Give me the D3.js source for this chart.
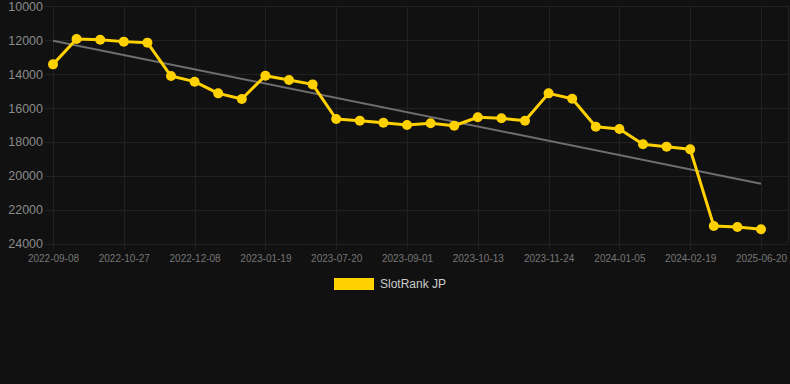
<!DOCTYPE html>
<html>
<head>
<meta charset="utf-8">
<script src="https://cdn.jsdelivr.net/npm/d3@7"></script>
<style>
  html, body { margin: 0; padding: 0; background: #111111; }
  svg { display: block; }
</style>
</head>
<body>
<svg id="chart" width="790" height="384"></svg>
<script>
// ---- data ----
const seriesName = "SlotRank JP";
const rankValues = [
  13440, 11950, 11990, 12100, 12160, 14130, 14460, 15150, 15480, 14110,
  14360, 14620, 16660, 16760, 16880, 17015, 16915, 17060, 16560, 16620,
  16760, 15150, 15465, 17115, 17250, 18150, 18290, 18450, 22970, 23030,
  23160
];
const tickLabels = [
  "2022-09-08", "2022-10-27", "2022-12-08", "2023-01-19", "2023-07-20",
  "2023-09-01", "2023-10-13", "2023-11-24", "2024-01-05", "2024-02-19",
  "2025-06-20"
];
const tickIndices = [0, 3, 6, 9, 12, 15, 18, 21, 24, 27, 30];
const trendValues = [12045, 20475];
const yTicks = [10000, 12000, 14000, 16000, 18000, 20000, 22000, 24000];

// ---- layout ----
const svg = d3.select("#chart");
const plot = { left: 45, right: 788, top: 6, bottom: 243.5 };

const x = d3.scalePoint()
  .domain(d3.range(rankValues.length))
  .range([53, 761]);
const y = d3.scaleLinear()
  .domain([10000, 24000])
  .range([plot.top, plot.bottom]);

const gridColor = "#212121";

// horizontal grid + y labels
const yAxis = d3.axisLeft(y).tickValues(yTicks).tickSize(0).tickPadding(0)
  .tickFormat(d3.format("d"));
const gy = svg.append("g").attr("transform", `translate(${plot.left - 2},0)`).call(yAxis);
gy.select(".domain").remove();
gy.selectAll("text")
  .attr("fill", "#8a8a8a")
  .attr("font-family", "Liberation Sans, Arial, sans-serif")
  .attr("font-size", 12.5)
  .attr("dy", "0.34em");

svg.append("g").selectAll("line").data(yTicks).join("line")
  .attr("x1", plot.left).attr("x2", plot.right)
  .attr("y1", d => Math.round(y(d)) + 0.5).attr("y2", d => Math.round(y(d)) + 0.5)
  .attr("stroke", gridColor).attr("stroke-width", 1);

// vertical grid
svg.append("g").selectAll("line").data(tickIndices).join("line")
  .attr("x1", d => Math.round(x(d)) + 0.5).attr("x2", d => Math.round(x(d)) + 0.5)
  .attr("y1", plot.top).attr("y2", plot.bottom + 6)
  .attr("stroke", gridColor).attr("stroke-width", 1);
svg.append("line")
  .attr("x1", plot.right + 0.5).attr("x2", plot.right + 0.5)
  .attr("y1", plot.top).attr("y2", plot.bottom)
  .attr("stroke", gridColor);

// x axis labels
const xAxis = d3.axisBottom(x).tickValues(tickIndices).tickSize(0).tickPadding(0)
  .tickFormat((d, i) => tickLabels[i]);
const gx = svg.append("g").attr("transform", `translate(0,${plot.bottom + 15.5})`).call(xAxis);
gx.select(".domain").remove();
gx.selectAll("text")
  .attr("fill", "#767676")
  .attr("font-family", "Liberation Sans, Arial, sans-serif")
  .attr("font-size", 10)
  .attr("dy", "0.34em");

// trend line
svg.append("line")
  .attr("x1", x(0)).attr("y1", y(trendValues[0]))
  .attr("x2", x(rankValues.length - 1)).attr("y2", y(trendValues[1]))
  .attr("stroke", "#6e6e6e").attr("stroke-width", 2);

// series line
const lineColor = "#FFD100";
const line = d3.line().x((d, i) => x(i)).y(d => y(d));
svg.append("path").datum(rankValues)
  .attr("d", line)
  .attr("fill", "none")
  .attr("stroke", lineColor)
  .attr("stroke-width", 3)
  .attr("stroke-linejoin", "round");

svg.append("g").selectAll("circle").data(rankValues).join("circle")
  .attr("cx", (d, i) => x(i)).attr("cy", d => y(d))
  .attr("r", 5)
  .attr("fill", lineColor);

// legend
const legend = svg.append("g");
legend.append("rect")
  .attr("x", 334).attr("y", 278).attr("width", 40).attr("height", 12)
  .attr("fill", lineColor);
legend.append("text")
  .attr("x", 380).attr("y", 284).attr("dy", "0.35em")
  .attr("fill", "#cccccc")
  .attr("font-family", "Liberation Sans, Arial, sans-serif")
  .attr("font-size", 12)
  .text(seriesName);
</script>
</body>
</html>
